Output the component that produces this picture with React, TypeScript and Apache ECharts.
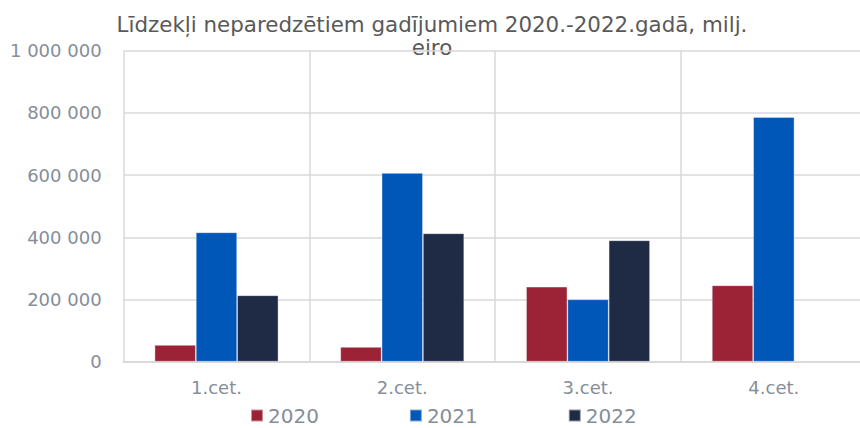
import React, { useEffect, useRef } from "react";
import * as echarts from "echarts";

const titleLines = ["Līdzekļi neparedzētiem gadījumiem 2020.-2022.gadā, milj.", "eiro"];
const categories = ["1.cet.", "2.cet.", "3.cet.", "4.cet."];
const seriesNames = ["2020", "2021", "2022"];
const values2020 = [53700, 47300, 241000, 245600];
const values2021 = [416000, 606800, 200600, 786800];
const values2022 = [213500, 412900, 390300, null];
const colors = ["#9B2335", "#0057B8", "#1F2A44"];
const yTicks = { min: 0, max: 1000000, interval: 200000 };

const FONT = "DejaVu Sans";
const LABEL_COLOR = "#858e99";

export default function App() {
  const ref = useRef<HTMLDivElement>(null);
  useEffect(() => {
    document.body.style.margin = "0";
    document.body.style.overflow = "hidden";
    const chart = echarts.init(ref.current!, null, { renderer: "svg" });
    const data = [values2020, values2021, values2022];
    chart.setOption({
      animation: false,
      color: colors,
      graphic: [
        {
          type: "text",
          x: 432,
          y: 24,
          style: {
            text: titleLines[0],
            fill: "#595959",
            font: `21.4px '${FONT}'`,
            align: "center",
            verticalAlign: "middle",
          },
        },
        {
          type: "text",
          x: 432,
          y: 47.5,
          style: {
            text: titleLines[1],
            fill: "#595959",
            font: `21.4px '${FONT}'`,
            align: "center",
            verticalAlign: "middle",
          },
        },
      ],
      legend: {
        data: seriesNames,
        left: 250,
        top: 405.5,
        itemWidth: 12,
        itemHeight: 12,
        itemGap: 90,
        icon: "rect",
        padding: 0,
        textStyle: { fontSize: 20, color: LABEL_COLOR, fontFamily: FONT, lineHeight: 20 },
      },
      grid: { left: 123.6, right: 13.3, top: 50.7, bottom: 66.3, containLabel: false },
      xAxis: {
        type: "category",
        data: categories,
        axisLine: { show: true, lineStyle: { color: "#d9d9d9", width: 2 } },
        axisTick: { show: false },
        splitLine: { show: true, lineStyle: { color: "#d9d9d9", width: 1.5 } },
        axisLabel: { fontSize: 18, color: LABEL_COLOR, fontFamily: FONT, margin: 17 },
      },
      yAxis: {
        type: "value",
        min: yTicks.min,
        max: yTicks.max,
        interval: yTicks.interval,
        axisLine: { show: false },
        axisTick: { show: false },
        splitLine: { lineStyle: { color: "#d9d9d9", width: 1.5 } },
        axisLabel: {
          fontSize: 18,
          color: LABEL_COLOR,
          fontFamily: FONT,
          margin: 22,
          formatter: (v: number) => String(v).replace(/\B(?=(\d{3})+(?!\d))/g, " "),
        },
      },
      series: seriesNames.map((name, i) => ({
        name,
        type: "bar",
        data: data[i],
        barGap: "0%",
        barCategoryGap: "33.3%",
        itemStyle: { color: colors[i], borderColor: "rgba(255,255,255,0.5)", borderWidth: 0.75 },
      })),
    });
    return () => chart.dispose();
  }, []);
  return (
    <div
      ref={ref}
      style={{ position: "absolute", left: 0, top: 0, width: 880, height: 428 }}
    />
  );
}
